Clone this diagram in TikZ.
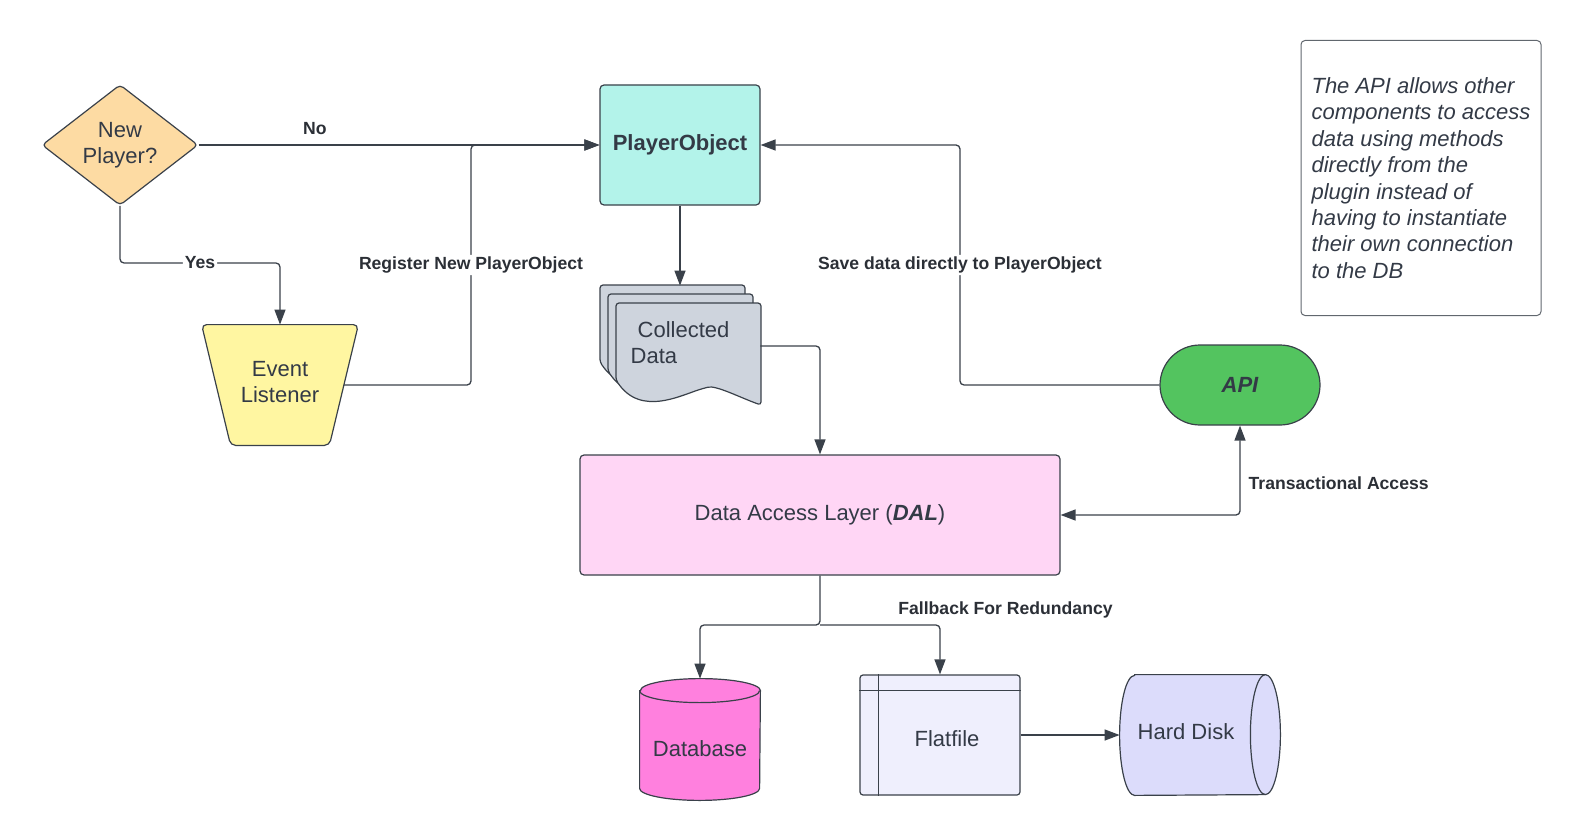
\documentclass[tikz,border=0pt]{standalone}
\usepackage{fontspec}
\setmainfont{Liberation Sans}
\usetikzlibrary{shapes.geometric, arrows.meta, positioning, calc}

\definecolor{lineclr}{HTML}{3A414A}
\definecolor{txtclr}{HTML}{333A46}
\definecolor{lbltxt}{HTML}{2B2F36}
\definecolor{decfill}{HTML}{FDDBA3}
\definecolor{objfill}{HTML}{B3F3EA}
\definecolor{evfill}{HTML}{FFF6A1}
\definecolor{docfill}{HTML}{CED4DD}
\definecolor{dalfill}{HTML}{FFD6F5}
\definecolor{apifill}{HTML}{53C45F}
\definecolor{dbfill}{HTML}{FF80DE}
\definecolor{fffill}{HTML}{EFEFFD}
\definecolor{hdfill}{HTML}{DCDCFB}

\newcommand{\nodefont}{\fontsize{11}{13.2}\selectfont}

\tikzset{
    x=0.5pt, y=-0.5pt,
    >={Triangle[length=7.5pt,width=5.5pt]},
    every node/.style={text=txtclr, font=\nodefont},
    block/.style={draw=lineclr, line width=0.6pt, rounded corners=2pt, align=center, inner sep=0pt},
    anchorbox/.style={minimum width=#1, minimum height=60pt, inner sep=0pt},
    flow/.style={->, draw=lineclr, line width=0.65pt, rounded corners=2pt},
    lbl/.style={font=\bfseries\fontsize{8.8}{10}\selectfont, text=lbltxt, inner sep=1pt},
    shapeline/.style={draw=lineclr, line width=0.6pt}
}

\begin{document}
\begin{tikzpicture}
    \useasboundingbox (0,0) rectangle (1580,840);

    % flow nodes
    \node[block, diamond, fill=decfill, minimum width=78pt, minimum height=58pt] (newp) at (120,145) {New\\Player?};
    \node[anchorbox=63.5pt] (evl) at (280,385) {};
    \draw[shapeline, fill=evfill, rounded corners=2.5pt] ($(evl.north west)+(-14.5,0)$) -- ($(evl.north east)+(14.5,0)$)
        -- ($(evl.south east)+(-14.5,0)$) -- ($(evl.south west)+(14.5,0)$) -- cycle;
    \node[align=center] at ($(evl.center)+(0,-3)$) (evltxt) {Event\\Listener};
    \node[block, fill=objfill, minimum width=80pt, minimum height=60pt, font=\bfseries\nodefont] (po) at (680,145) {PlayerObject};

    % stacked documents
    \foreach \dx/\dy in {0/0,8/9,16/18} {
        \begin{scope}[shift={(600+\dx,285+\dy)}]
            \draw[shapeline, fill=docfill, rounded corners=1.5pt] (0,77) -- (0,0) -- (145,0) -- (145,102)
                .. controls (125,95) and (100,82) .. (89,85)
                .. controls (67,91) and (25,115) .. (0,77) -- cycle;
        \end{scope}
    }
    \node[anchorbox=80pt, below=40pt of po] (coll) {};
    \node[align=left] at ($(coll.center)+(0,-3.5)$) (colltxt) {\hspace{3.5pt}Collected\\Data};

    \node[block, fill=dalfill, minimum width=240pt, minimum height=60pt] (dal) at (820,515) {Data Access Layer (\textbf{\textit{DAL}})};
    \node[block, fill=apifill, minimum width=80pt, minimum height=40pt, rounded corners=20pt,
          font=\bfseries\itshape\nodefont] (api) at (1240,385) {API};

    % storage
    \node[minimum width=60pt, minimum height=60.5pt, inner sep=0pt] (db) at (700,739.5) {};
    \draw[shapeline, fill=dbfill] ($(db.north west)+(0,12)$) -- ($(db.south west)+(0,-12)$)
        arc[start angle=180, end angle=360, x radius=30pt, y radius=6pt]
        -- ($(db.north east)+(0,12)$)
        arc[start angle=0, end angle=180, x radius=30pt, y radius=6pt] -- cycle;
    \draw[shapeline] ($(db.north west)+(0,12)$) arc[start angle=180, end angle=360, x radius=30pt, y radius=6pt];
    \node at ($(db.center)+(0,9)$) (dbtxt) {Database};

    \node[block, fill=fffill, minimum width=80pt, minimum height=60pt, rounded corners=1.5pt] (ff) at (940,735) {};
    \draw[shapeline] ($(ff.north west)+(19,0)$) -- ($(ff.south west)+(19,0)$);
    \draw[shapeline] ($(ff.north west)+(0,16)$) -- ($(ff.north east)+(0,16)$);
    \node at ($(ff.center)+(7,4)$) (fftxt) {Flatfile};

    \node[anchorbox=80pt] (hd) at (1200,735) {};
    \draw[shapeline, fill=hdfill] ($(hd.north west)+(15,0)$) -- ($(hd.north east)+(-15,0)$)
        arc[start angle=90, end angle=-90, x radius=7.5pt, y radius=30pt]
        -- ($(hd.south west)+(15,0)$)
        arc[start angle=270, end angle=90, x radius=7.5pt, y radius=30pt] -- cycle;
    \draw[shapeline] ($(hd.north east)+(-15,0)$) arc[start angle=90, end angle=270, x radius=7.5pt, y radius=30pt];
    \node at ($(hd.center)+(-14,-3)$) (hdtxt) {Hard Disk};

    % note
    \node[draw=lineclr!80, line width=0.5pt, rounded corners=2pt, minimum width=120pt, minimum height=137.5pt,
          align=left, font=\itshape\nodefont] (note) at (1421,178) {The API allows other\\components to access\\data using methods\\directly from the\\plugin instead of\\having to instantiate\\their own connection\\to the DB};

    % connectors
    \coordinate (regturn) at (471,145);
    \coordinate (saveturn) at (960,145);
    \coordinate (yesmid) at (200,263);
    \coordinate (split) at (820,625);

    \draw[flow] (newp.east) -- node[lbl, above=4pt, pos=.29] (nolbl) {No} (po.west);
    \draw[flow] (newp.south) |- (yesmid) node[lbl, fill=white] (yeslbl) {Yes} -| (evl.north);
    \draw[flow] (evl.east) -| node[lbl, fill=white, pos=.75] (reglbl) {Register New PlayerObject} (regturn) -- (po.west);
    \draw[flow] (po) -- (coll);
    \draw[flow] (coll.east) -| (dal.north);
    \draw[flow] (api.west) -| node[lbl, fill=white, pos=.75] (savelbl) {Save data directly to PlayerObject} (saveturn) -- (po.east);
    \draw[flow, <->] (api.south) |- node[lbl, right=3pt, pos=.32] (translbl) {Transactional Access} (dal.east);
    \draw[flow] (dal.south) -- (split) -| (db.north);
    \draw[flow] (split) -| (ff.north);
    \node[lbl, above right=2pt and 38pt of split] (fblbl) {Fallback For Redundancy};
    \draw[flow] (ff.east) -- (hd.west);

\end{tikzpicture}
\end{document}
